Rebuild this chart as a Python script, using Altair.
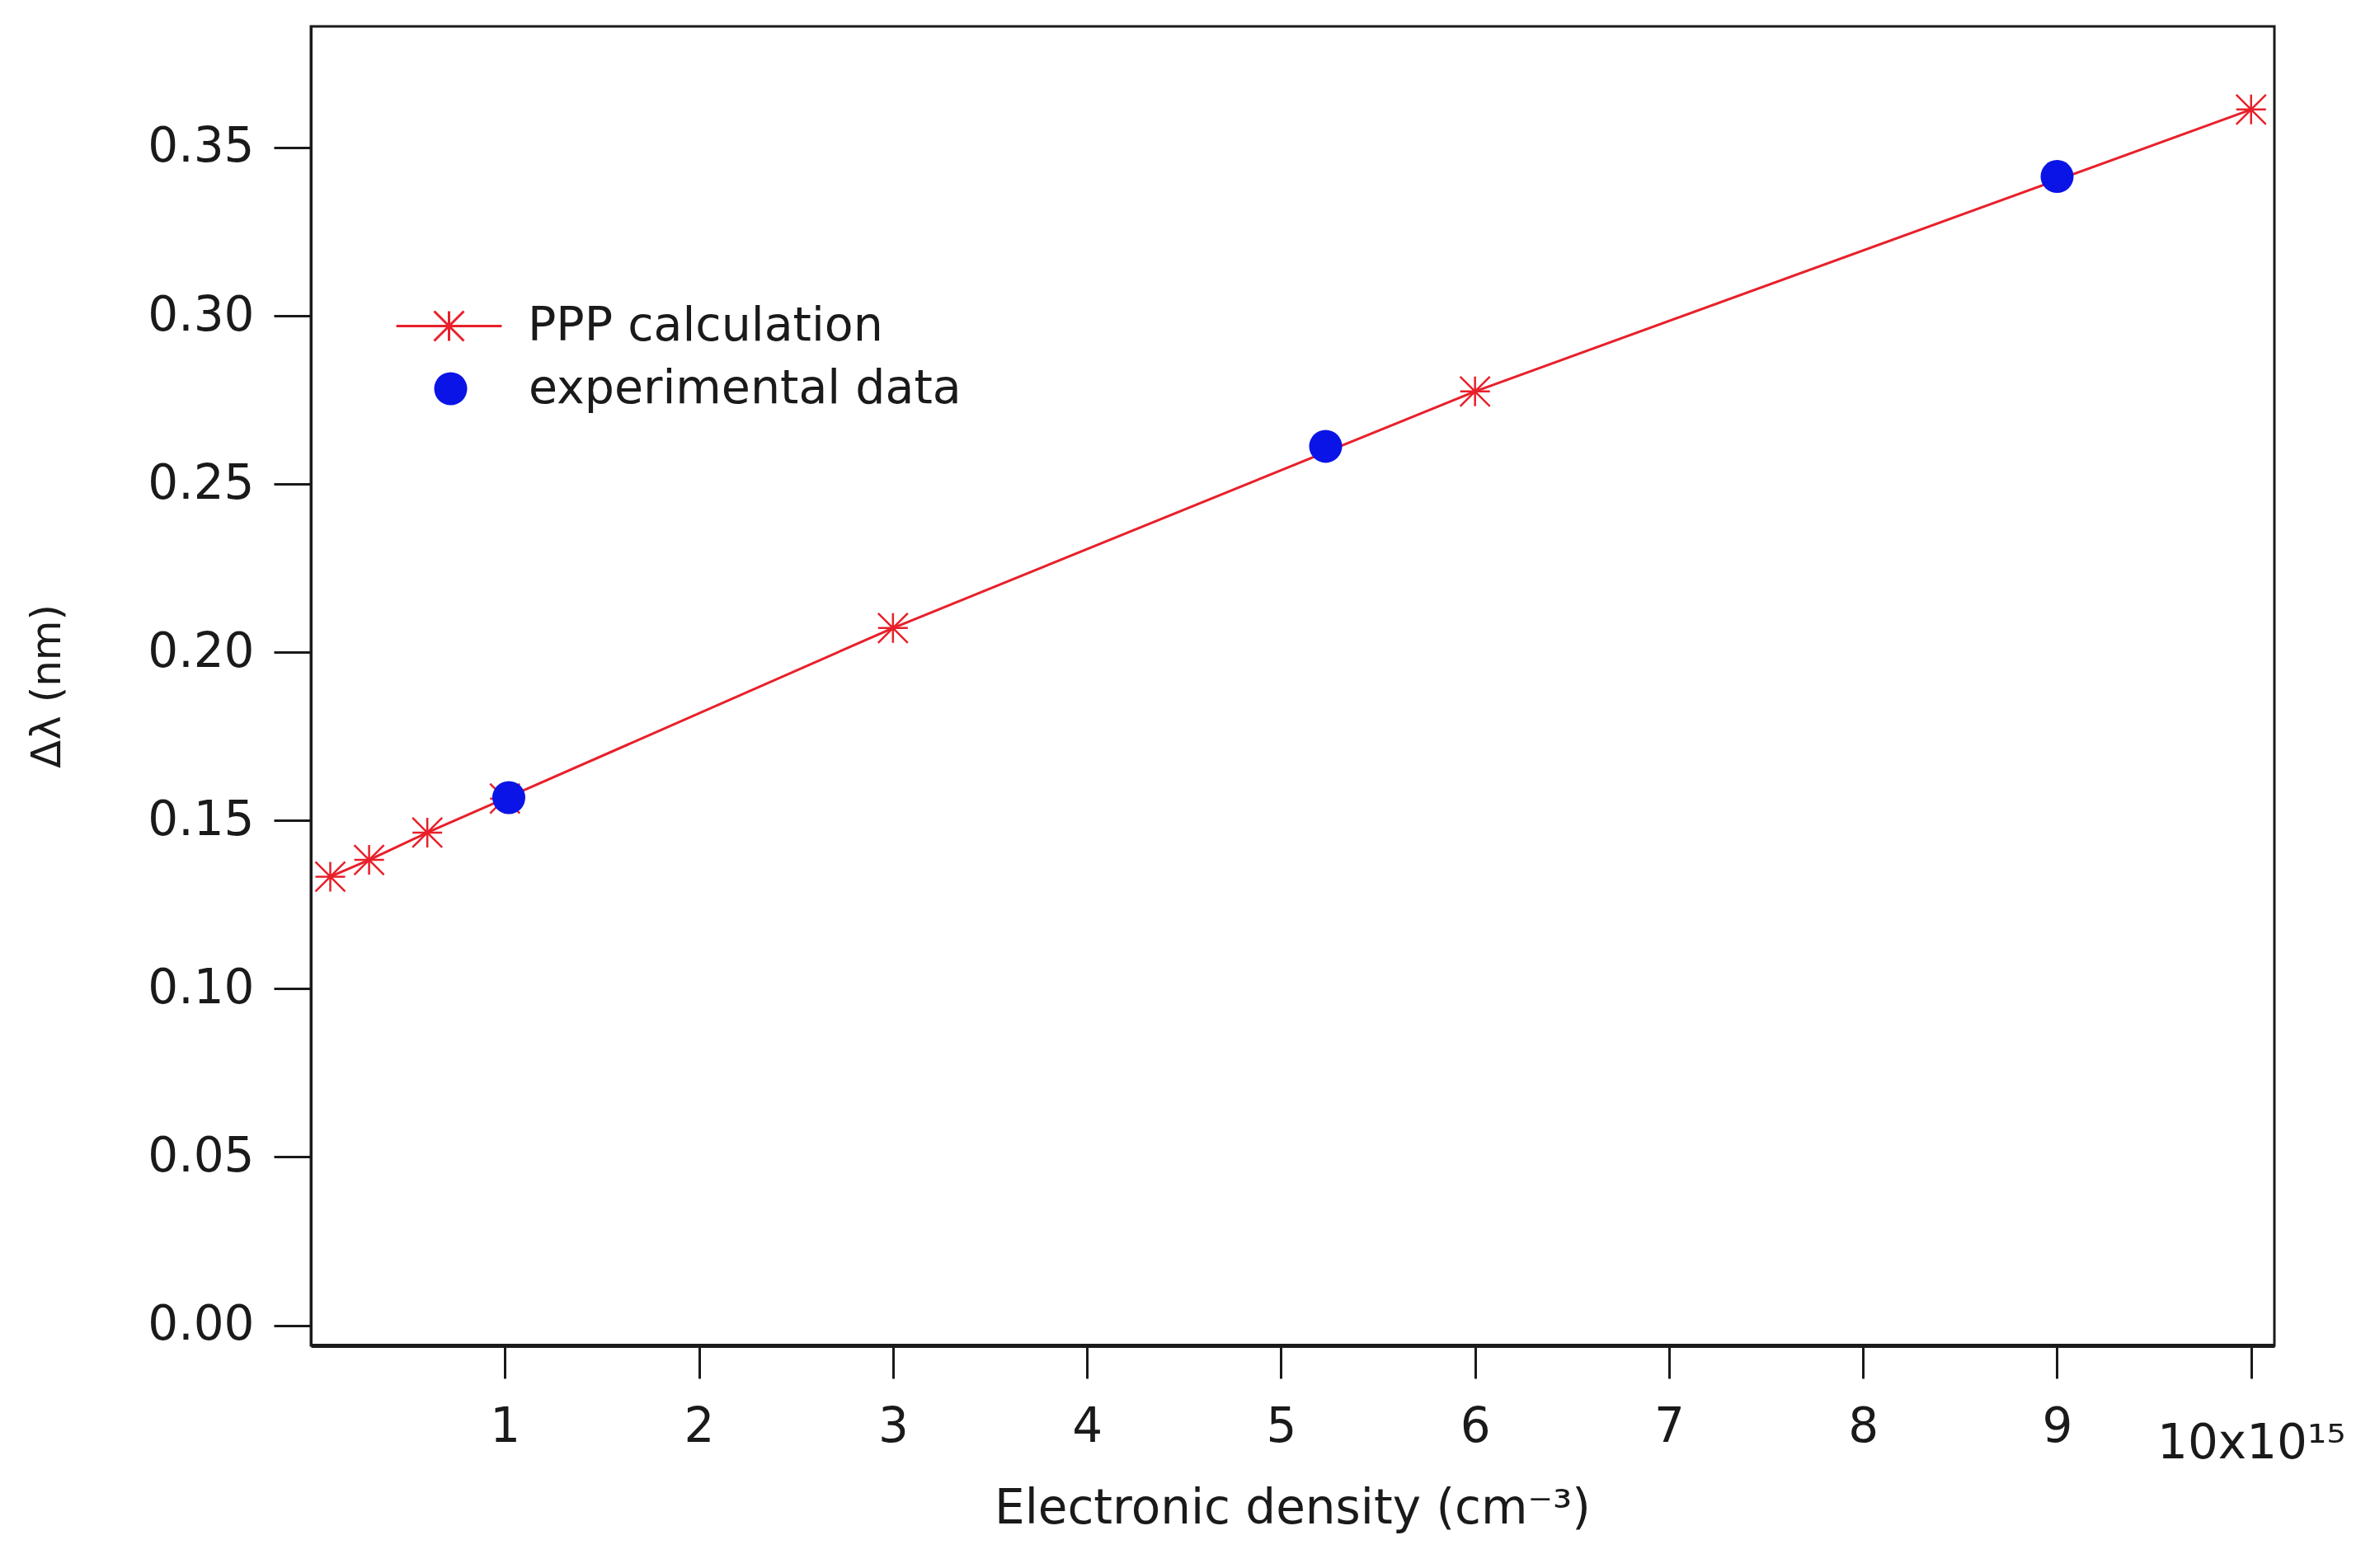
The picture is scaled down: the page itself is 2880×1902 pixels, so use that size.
import altair as alt
import pandas as pd

# PPP calculation (model) values
ppp_x = [0.1, 0.3, 0.6, 1.0, 3.0, 6.0, 10.0]
ppp_y = [0.1333, 0.1383, 0.1464, 0.1565, 0.2072, 0.2775, 0.3613]
# experimental data
exp_x = [1.02, 5.23, 9.0]
exp_y = [0.1568, 0.2612, 0.3414]

x_ticks = [1, 2, 3, 4, 5, 6, 7, 8, 9, 10]
y_ticks = [0.0, 0.05, 0.10, 0.15, 0.20, 0.25, 0.30, 0.35]

RED = "#e8202a"
BLUE = "#0a14e6"
FONT = "DejaVu Sans"

STAR = "M-1,0H1M0,-1V1M-1,-1L1,1M-1,1L1,-1"
STAR_LINE = "M-3.55,0H3.55M0,-1V1M-1,-1L1,1M-1,1L1,-1"

ppp = pd.DataFrame({"x": ppp_x, "y": ppp_y, "lg": "PPP calculation"})
exp = pd.DataFrame({"x": exp_x, "y": exp_y, "lg2": "experimental data"})

xs = alt.Scale(domain=[0, 10.12], nice=False, zero=False)
ys = alt.Scale(domain=[-0.006, 0.386], nice=False, zero=False)

x_axis = alt.Axis(
    values=x_ticks,
    format="d",
    title="Electronic density (cm⁻³)",
    labelExpr="datum.value == 10 ? '10x10¹⁵' : datum.label",
    labelLimit=0,
    labelFont=FONT, labelFontSize=58, labelColor="#1a1a1a",
    labelPadding={"condition": {"test": "datum.value == 10", "value": 50}, "value": 30},
    tickSize=40, tickWidth=3, tickColor="#1a1a1a",
    domainWidth=5, domainColor="#1a1a1a",
    grid=False,
    titleFont=FONT, titleFontSize=58, titleFontWeight="normal", titleColor="#1a1a1a",
    titleBaseline="alphabetic", titleY=215, titleX=1190,
)
y_axis = alt.Axis(
    values=y_ticks,
    format=".2f",
    title="Δλ (nm)",
    labelFont=FONT, labelFontSize=58, labelColor="#1a1a1a", labelPadding=24,
    tickSize=45, tickWidth=3, tickColor="#1a1a1a",
    domainWidth=3, domainColor="#1a1a1a",
    grid=False,
    titleFont=FONT, titleFontSize=50, titleFontWeight="normal", titleColor="#1a1a1a",
    titleBaseline="middle", titleX=-320, titleY=800,
)

line = alt.Chart(ppp).mark_line(color=RED, strokeWidth=3).encode(
    x=alt.X("x:Q", scale=xs, axis=x_axis),
    y=alt.Y("y:Q", scale=ys, axis=y_axis),
)

stars = alt.Chart(ppp).mark_point(
    shape=STAR, filled=False, size=1296, color=RED, strokeWidth=2.5, opacity=1
).encode(x="x:Q", y="y:Q")

dots = alt.Chart(exp).mark_point(
    shape="circle", filled=True, size=1600, opacity=1
).encode(
    x="x:Q",
    y="y:Q",
    fill=alt.Fill(
        "lg2:N",
        scale=alt.Scale(domain=["experimental data"], range=[BLUE]),
        legend=alt.Legend(
            title=None, orient="none", legendX=141, legendY=411,
            labelFont=FONT, labelFontSize=57, labelColor="#1a1a1a",
            labelLimit=0,
            labelOffset=66, symbolSize=1600, symbolStrokeWidth=0,
            padding=0, symbolOpacity=1,
        ),
    ),
)

legend_ppp = alt.Chart(ppp.head(1)).mark_point(
    filled=False, size=1296, color=RED, strokeWidth=3
).encode(
    x="x:Q",
    y="y:Q",
    opacity=alt.value(0),
    shape=alt.Shape(
        "lg:N",
        scale=alt.Scale(domain=["PPP calculation"], range=[STAR_LINE]),
        legend=alt.Legend(
            title=None, orient="none", legendX=139, legendY=335,
            labelFont=FONT, labelFontSize=57, labelColor="#1a1a1a",
            labelLimit=0,
            labelOffset=67, symbolSize=1296, symbolStrokeWidth=3,
            symbolStrokeColor=RED, symbolFillColor="transparent",
            padding=0, symbolOpacity=1,
        ),
    ),
)

chart = alt.layer(line, stars, dots, legend_ppp).resolve_legend(
    shape="independent", fill="independent"
).properties(
    width=2381,
    height=1600,
    autosize=alt.AutoSizeParams(type="none"),
    padding={"left": 369, "top": 24, "right": 114, "bottom": 262},
    background="white",
).configure_view(
    stroke="#1a1a1a", strokeWidth=3
)

chart.save("out.html", embed_options={"renderer": "svg", "actions": False})
